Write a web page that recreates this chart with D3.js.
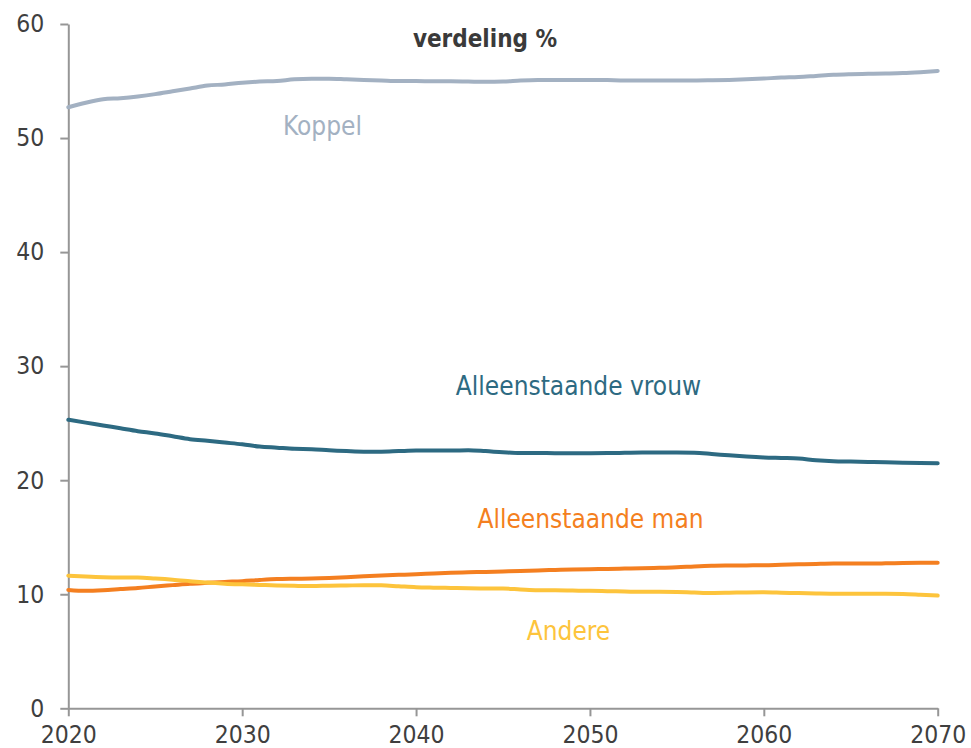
<!DOCTYPE html>
<html>
<head>
<meta charset="utf-8">
<script src="https://cdn.jsdelivr.net/npm/d3@7"></script>
<style>
  html, body { margin: 0; padding: 0; background: #fff; }
  svg { display: block; }
  text { font-family: "DejaVu Sans Condensed", "DejaVu Sans", sans-serif; font-stretch: condensed; }
</style>
</head>
<body>
<svg id="chart" width="971" height="748"></svg>
<script>
const years = d3.range(2020, 2071);
const koppel = [52.7, 53.1, 53.4, 53.5, 53.65, 53.85, 54.1, 54.35, 54.6, 54.7, 54.85, 54.95, 55.0, 55.15, 55.2, 55.2, 55.15, 55.1, 55.05, 55.0, 55.0, 54.97, 54.97, 54.95, 54.93, 54.95, 55.05, 55.1, 55.1, 55.1, 55.1, 55.08, 55.05, 55.05, 55.05, 55.05, 55.05, 55.07, 55.1, 55.15, 55.22, 55.3, 55.35, 55.45, 55.55, 55.6, 55.63, 55.66, 55.7, 55.78, 55.88];
const vrouw = [25.3, 25.05, 24.8, 24.55, 24.3, 24.1, 23.85, 23.6, 23.45, 23.3, 23.15, 22.95, 22.85, 22.75, 22.72, 22.62, 22.55, 22.5, 22.5, 22.55, 22.6, 22.6, 22.6, 22.63, 22.55, 22.45, 22.38, 22.38, 22.37, 22.37, 22.37, 22.38, 22.4, 22.42, 22.42, 22.42, 22.4, 22.3, 22.18, 22.08, 22.0, 21.95, 21.9, 21.75, 21.66, 21.63, 21.6, 21.57, 21.53, 21.5, 21.49];
const man = [10.38, 10.3, 10.35, 10.45, 10.55, 10.68, 10.8, 10.92, 11.0, 11.08, 11.15, 11.25, 11.33, 11.36, 11.38, 11.43, 11.5, 11.58, 11.65, 11.7, 11.75, 11.82, 11.88, 11.92, 11.96, 12.0, 12.04, 12.09, 12.13, 12.17, 12.2, 12.22, 12.25, 12.28, 12.32, 12.36, 12.44, 12.5, 12.52, 12.53, 12.54, 12.58, 12.62, 12.66, 12.69, 12.69, 12.69, 12.71, 12.74, 12.76, 12.77];
const andere = [11.63, 11.55, 11.49, 11.47, 11.46, 11.38, 11.28, 11.15, 11.02, 10.93, 10.87, 10.82, 10.77, 10.74, 10.72, 10.75, 10.77, 10.79, 10.78, 10.7, 10.62, 10.58, 10.55, 10.52, 10.51, 10.5, 10.42, 10.35, 10.34, 10.32, 10.3, 10.27, 10.24, 10.21, 10.22, 10.2, 10.15, 10.11, 10.13, 10.16, 10.17, 10.14, 10.1, 10.07, 10.05, 10.05, 10.05, 10.05, 10.03, 9.96, 9.88];
const seriesNames = ["Koppel", "Alleenstaande vrouw", "Alleenstaande man", "Andere"];
const seriesColors = ["#a3b1c2", "#2d6a82", "#f47f20", "#fdc43c"];
const xTicks = [2020, 2030, 2040, 2050, 2060, 2070];
const yTicks = [0, 10, 20, 30, 40, 50, 60];
const title = "verdeling %";

const seriesValues = [koppel, vrouw, man, andere];
const series = seriesNames.map((name, i) => ({
  name, color: seriesColors[i],
  points: years.map((yr, j) => ({ x: yr, y: seriesValues[i][j] }))
}));

const svg = d3.select("#chart");
const x = d3.scaleLinear().domain([2020, 2070]).range([68.3, 937.7]);
const y = d3.scaleLinear().domain([0, 60]).range([708.3, 24]);

const axisColor = "#969696";
const tickTextColor = "#3f3f3f";

const gy = svg.append("g").attr("transform", `translate(${x(2020)},0)`)
  .call(d3.axisLeft(y).tickValues(yTicks).tickSize(8).tickSizeOuter(0).tickPadding(16).tickFormat(d3.format("d")));
const gx = svg.append("g").attr("transform", `translate(0,${y(0)})`)
  .call(d3.axisBottom(x).tickValues(xTicks).tickSize(8).tickSizeOuter(0).tickPadding(9).tickFormat(d3.format("d")));

[gx, gy].forEach(g => {
  g.select(".domain").attr("stroke", axisColor).attr("stroke-width", 2);
  g.selectAll(".tick line").attr("stroke", axisColor).attr("stroke-width", 2);
  g.selectAll(".tick text").attr("fill", tickTextColor)
    .style("font-family", '"DejaVu Sans Condensed", "DejaVu Sans", sans-serif')
    .style("font-stretch", "condensed")
    .style("font-size", "24.5px");
});

const line = d3.line().x(d => x(d.x)).y(d => y(d.y)).curve(d3.curveMonotoneX);
svg.append("g").selectAll("path").data(series).join("path")
  .attr("d", d => line(d.points))
  .attr("fill", "none")
  .attr("stroke", d => d.color)
  .attr("stroke-width", 4)
  .attr("stroke-linecap", "round")
  .attr("stroke-linejoin", "round");

svg.append("text").attr("x", 485).attr("y", 47).attr("text-anchor", "middle")
  .attr("font-weight", "bold").attr("font-size", 24).attr("fill", "#3a3a3a").text(title);

const labelPos = [
  { x: 322.5, y: 135 },
  { x: 578.5, y: 395 },
  { x: 590.5, y: 528 },
  { x: 568.5, y: 640 }
];
svg.append("g").selectAll("text").data(series).join("text")
  .attr("x", (d, i) => labelPos[i].x)
  .attr("y", (d, i) => labelPos[i].y)
  .attr("text-anchor", "middle")
  .attr("font-size", 26)
  .attr("fill", d => d.color)
  .text(d => d.name);
</script>
</body>
</html>
